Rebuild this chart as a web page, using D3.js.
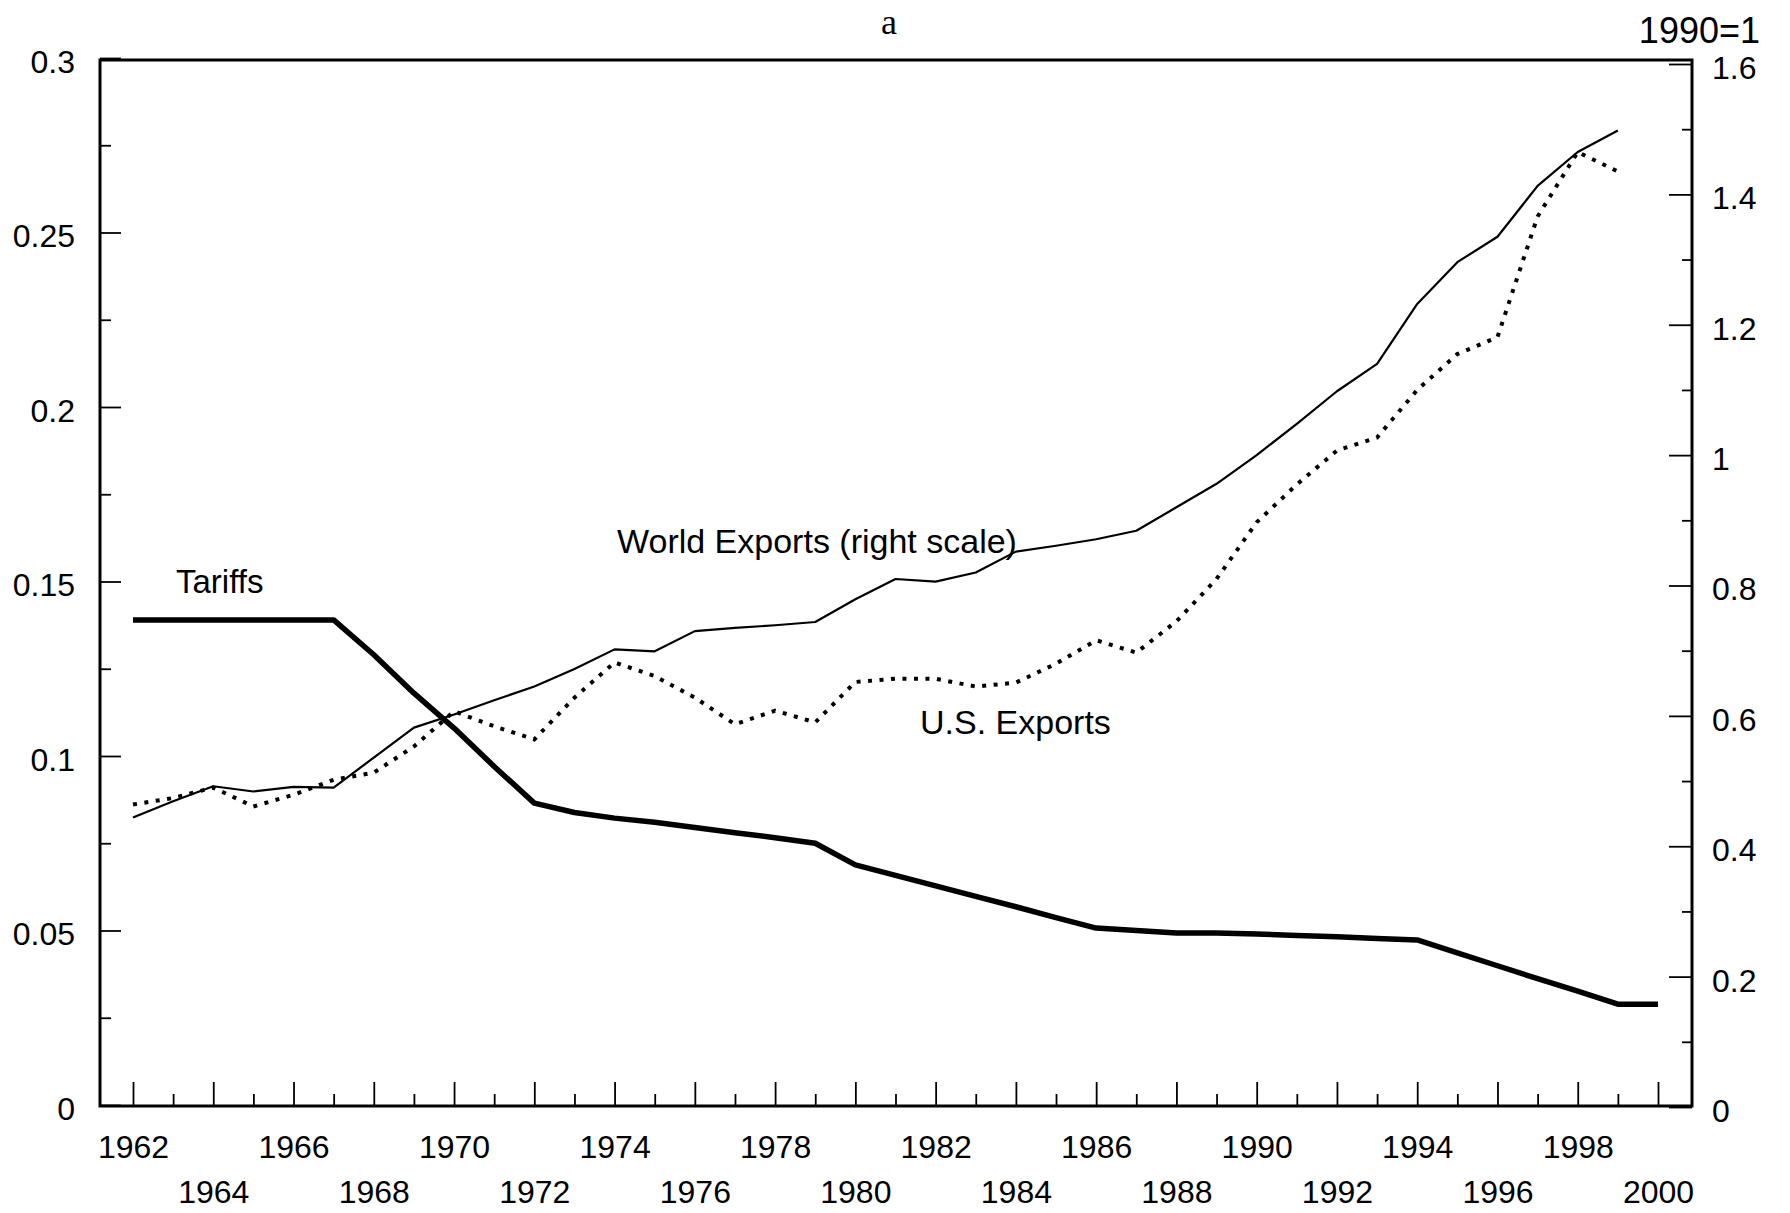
<!DOCTYPE html>
<html><head><meta charset="utf-8">
<script src="https://cdn.jsdelivr.net/npm/d3@7"></script>
<style>
body{margin:0;background:#fff}
svg text{font-family:"Liberation Sans",Arial,Helvetica,sans-serif;fill:#000}
</style>
</head><body>
<svg id="chart" width="1790" height="1213"></svg>
<script>
// ---------- data ----------
const years = [1962,1963,1964,1965,1966,1967,1968,1969,1970,1971,1972,1973,1974,1975,1976,1977,1978,1979,1980,
  1981,1982,1983,1984,1985,1986,1987,1988,1989,1990,1991,1992,1993,1994,1995,1996,1997,1998,1999,2000];
// Tariffs (left scale), 1962-2000
const tariffs = [0.139,0.139,0.139,0.139,0.139,0.139,0.129,0.118,0.108,0.097,0.0865,0.0838,0.0822,0.0810,0.0795,
  0.0780,0.0766,0.0750,0.0688,0.0658,0.0628,0.0598,0.0568,0.0537,0.0507,0.0500,0.0493,0.0493,0.0490,0.0486,
  0.0482,0.0477,0.0473,0.0436,0.0399,0.0362,0.0326,0.0289,0.0289];
// World exports (right scale, 1990=1), 1962-1999
const worldExports = [0.444,0.469,0.492,0.484,0.491,0.490,0.536,0.582,0.602,0.624,0.645,0.672,0.702,0.699,0.730,
  0.735,0.739,0.744,0.779,0.810,0.806,0.820,0.852,0.861,0.871,0.884,0.920,0.956,1.000,1.048,1.098,1.140,1.232,
  1.296,1.335,1.413,1.465,1.498];
// U.S. exports (right scale), 1962-1999
const usExports = [0.464,0.474,0.490,0.461,0.479,0.502,0.513,0.553,0.607,0.584,0.564,0.628,0.682,0.661,0.628,
  0.587,0.608,0.590,0.652,0.657,0.657,0.645,0.651,0.680,0.716,0.697,0.745,0.810,0.897,0.955,1.007,1.027,1.100,
  1.155,1.181,1.366,1.465,1.435];

const leftTicks = [0,0.05,0.1,0.15,0.2,0.25,0.3];
const leftLabels = ["0","0.05","0.1","0.15","0.2","0.25","0.3"];
const leftMinor = [0.025,0.075,0.125,0.175,0.225,0.275];
const rightTicks = [0,0.2,0.4,0.6,0.8,1.0,1.2,1.4,1.6];
const rightLabels = ["0","0.2","0.4","0.6","0.8","1","1.2","1.4","1.6"];
const rightMinor = [0.1,0.3,0.5,0.7,0.9,1.1,1.3,1.5];
const xLabelYears = [1962,1964,1966,1968,1970,1972,1974,1976,1978,1980,1982,1984,1986,1988,1990,1992,1994,1996,1998,2000];
const xMinorYears = [1963,1965,1967,1969,1971,1973,1975,1977,1979,1981,1983,1985,1987,1989,1991,1993,1995,1997,1999];

// ---------- layout ----------
const L = 100, R = 1692, T = 60, B = 1106;
const svg = d3.select("#chart");
const x = d3.scaleLinear().domain([1962, 2000]).range([133, 1658]);
const yL = d3.scaleLinear().domain([0, 0.3]).range([1105, 58]);
const yR = d3.scaleLinear().domain([0, 1.6]).range([1107, 64]);

// frame
svg.append("rect").attr("x", L).attr("y", T).attr("width", R - L).attr("height", B - T)
  .attr("fill", "none").attr("stroke", "#000").attr("stroke-width", 3);

// left axis
const gL = svg.append("g").attr("transform", `translate(${L},0)`)
  .call(d3.axisLeft(yL).tickValues(leftTicks).tickFormat(d => leftLabels[leftTicks.indexOf(d)])
    .tickSizeInner(-21).tickSizeOuter(0).tickPadding(25));
svg.append("g").attr("transform", `translate(${L},0)`)
  .call(d3.axisLeft(yL).tickValues(leftMinor).tickFormat("").tickSizeInner(-11).tickSizeOuter(0));

// right axis
const gR = svg.append("g").attr("transform", `translate(${R},0)`)
  .call(d3.axisRight(yR).tickValues(rightTicks).tickFormat(d => rightLabels[rightTicks.indexOf(d)])
    .tickSizeInner(-23).tickSizeOuter(0).tickPadding(20));
svg.append("g").attr("transform", `translate(${R},0)`)
  .call(d3.axisRight(yR).tickValues(rightMinor).tickFormat("").tickSizeInner(-10).tickSizeOuter(0));

// bottom axis
const gB = svg.append("g").attr("transform", `translate(0,${B})`)
  .call(d3.axisBottom(x).tickValues(xLabelYears).tickFormat(d => String(d))
    .tickSizeInner(-24).tickSizeOuter(0).tickPadding(29));
svg.append("g").attr("transform", `translate(0,${B})`)
  .call(d3.axisBottom(x).tickValues(xMinorYears).tickFormat("").tickSizeInner(-12).tickSizeOuter(0));

svg.selectAll(".domain").remove();
svg.selectAll(".tick line").attr("stroke", "#000").attr("stroke-width", 1.8);
svg.selectAll(".tick text").attr("font-size", 32).attr("font-family", '"Liberation Sans",Arial,sans-serif');
gL.selectAll(".tick text").attr("dy", "0.45em");
gR.selectAll(".tick text").attr("dy", "0.45em");
gB.selectAll(".tick text").attr("y", (d, i) => i % 2 === 0 ? 29 : 74);

// lines
const tariffData = years.map((yr, i) => ({yr, v: tariffs[i]}));
const worldData = worldExports.map((v, i) => ({yr: years[i], v}));
const usData = usExports.map((v, i) => ({yr: years[i], v}));

svg.append("path").datum(worldData)
  .attr("d", d3.line().x(d => x(d.yr)).y(d => yR(d.v)))
  .attr("fill", "none").attr("stroke", "#000").attr("stroke-width", 2.2).attr("stroke-linejoin", "round");
svg.append("path").datum(usData)
  .attr("d", d3.line().x(d => x(d.yr)).y(d => yR(d.v)))
  .attr("fill", "none").attr("stroke", "#000").attr("stroke-width", 4)
  .attr("stroke-dasharray", "4 7.5");
svg.append("path").datum(tariffData)
  .attr("d", d3.line().x(d => x(d.yr)).y(d => yL(d.v)))
  .attr("fill", "none").attr("stroke", "#000").attr("stroke-width", 5.5).attr("stroke-linejoin", "round");

// annotations
svg.append("text").attr("x", 889).attr("y", 34).attr("text-anchor", "middle")
  .style("font-family", '"Liberation Serif","Times New Roman",serif').attr("font-size", 36).text("a");
svg.append("text").attr("x", 1760).attr("y", 43).attr("text-anchor", "end")
  .attr("font-size", 36).text("1990=1");
svg.append("text").attr("x", 176).attr("y", 593).attr("font-size", 33).text("Tariffs");
svg.append("text").attr("x", 617).attr("y", 553).attr("font-size", 34).text("World Exports (right scale)");
svg.append("text").attr("x", 920).attr("y", 734).attr("font-size", 34).text("U.S. Exports");
</script>
</body></html>
